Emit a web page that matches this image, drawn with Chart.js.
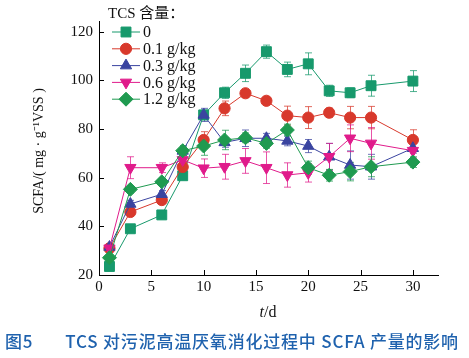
<!DOCTYPE html>
<html>
<head>
<meta charset="utf-8">
<script src="https://cdn.jsdelivr.net/npm/chart.js@4.4.0/dist/chart.umd.min.js"></script>
<style>
  body { margin: 0; background: #fff; }
  #wrap { position: relative; width: 469px; height: 358px; }
  #cap { position: absolute; left: 5px; top: 328px; font-family: "Noto Sans CJK SC", sans-serif;
         font-size: 17px; font-weight: 500; color: #1f62ae; white-space: nowrap; letter-spacing: 0.8px; }
  #cap span { margin-right: 32px; }
</style>
</head>
<body>
<div id="wrap">
  <canvas id="grafico" width="469" height="358"></canvas>
  <div id="cap"><span>图5</span>TCS 对污泥高温厌氧消化过程中 SCFA 产量的影响</div>
</div>
<script>
// dati
const giorni = [1, 3, 6, 8, 10, 12, 14, 16, 18, 20, 22, 24, 26, 30];
const nomiSerie = ['0', '0.1 g/kg', '0.3 g/kg', '0.6 g/kg', '1.2 g/kg'];
const tickY = [20, 40, 60, 80, 100, 120];
const tickX = [0, 5, 10, 15, 20, 25, 30];

const scfa0  = [23.5, 39, 44.7, 60.8, 85.8, 94.9, 102.9, 111.8, 104.5, 106.8, 95.7, 94.9, 97.8, 99.7];
const scfa01 = [31, 45.9, 50.8, 64.4, 75.5, 88.5, 94.7, 91.6, 85.5, 84.7, 86.7, 84.7, 84.7, 75.5];
const scfa03 = [31.5, 49.2, 53.2, 71, 85.8, 74.5, 76.2, 76.2, 75.1, 73, 68.6, 65.2, 64.5, 72.1];
const scfa06 = [31, 64.1, 64.1, 67.3, 63.9, 64.5, 66.9, 64.1, 61.1, 62, 68.6, 76.2, 74.1, 71.1];
const scfa12 = [27.1, 55.2, 58.3, 71.1, 73, 75.5, 76.4, 74.1, 79.6, 64.1, 61, 62.5, 64.5, 66.4];

const err0  = [1.2, 1.5, 1.5, 1.5, 2, 2.3, 3.4, 2.7, 3, 4.5, 2.3, 2, 4.3, 4.3];
const err01 = [1.5, 1.5, 1.5, 2, 3.4, 3, 1.5, 1.5, 3.9, 4.5, 1.9, 4.6, 4.6, 4.2];
const err03 = [1.2, 1.5, 1.5, 2, 2.7, 2, 3.4, 2, 2, 2.7, 5.5, 5.8, 5.1, 2];
const err06 = [1.2, 4.5, 2, 2, 3.8, 5.1, 5.1, 6.5, 5, 3.8, 5.5, 5.5, 6.5, 3];
const err12 = [1.2, 1.5, 1.5, 2, 3.8, 4, 2, 2, 2.4, 2.7, 2.4, 3.8, 4.1, 2.2];

const colori = ['#17996c', '#d8392c', '#3a44a0', '#e01b8b', '#1f9a50'];
const forme  = ['rect', 'circle', 'triangle', 'triangle', 'rectRot'];
const rotazioni = [0, 0, 0, 180, 0];
const raggi = [7, 5.6, 6.5, 6.5, 7];

const valori = [scfa0, scfa01, scfa03, scfa06, scfa12];
const errori = [err0, err01, err03, err06, err12];

const serif = '"Liberation Serif", "Times New Roman", serif';

function punti(arr) {
    return giorni.map((g, i) => ({x: g, y: arr[i]}));
}

let datasets = [];
for (let i = 0; i < 5; i++) {
    datasets.push({
        label: nomiSerie[i],
        data: punti(valori[i]),
        errori: errori[i],
        showLine: true,
        borderColor: colori[i],
        backgroundColor: colori[i],
        borderWidth: 1,
        pointStyle: forme[i],
        pointRotation: rotazioni[i],
        pointRadius: raggi[i],
        pointHoverRadius: raggi[i],
        pointBorderWidth: 1,
        order: 4 - i
    });
}

const barreErrore = {
    id: 'barreErrore',
    beforeDatasetsDraw(chart) {
        let ctx = chart.ctx;
        let sx = chart.scales.x, sy = chart.scales.y;
        ctx.save();
        ctx.lineWidth = 1;
        chart.data.datasets.forEach((ds, k) => {
            ctx.strokeStyle = colori[k];
            ctx.globalAlpha = 0.75;
            ds.data.forEach((p, i) => {
                let e = ds.errori[i];
                let px = Math.round(sx.getPixelForValue(p.x)) + 0.5;
                let t = sy.getPixelForValue(p.y + e);
                let b = sy.getPixelForValue(p.y - e);
                ctx.beginPath();
                ctx.moveTo(px, t); ctx.lineTo(px, b);
                ctx.moveTo(px - 3.5, t); ctx.lineTo(px + 3.5, t);
                ctx.moveTo(px - 3.5, b); ctx.lineTo(px + 3.5, b);
                ctx.stroke();
            });
        });
        ctx.restore();
    }
};

const decorazioni = {
    id: 'decorazioni',
    afterDraw(chart) {
        let ctx = chart.ctx;
        let sx = chart.scales.x, sy = chart.scales.y;
        let area = chart.chartArea;
        ctx.save();
        // tacche interne
        ctx.strokeStyle = '#000';
        ctx.lineWidth = 1;
        ctx.beginPath();
        for (let v of tickY) {
            let py = Math.round(sy.getPixelForValue(v)) + 0.5;
            ctx.moveTo(area.left, py); ctx.lineTo(area.left + 5, py);
        }
        for (let v of tickX) {
            let px = Math.round(sx.getPixelForValue(v)) + 0.5;
            ctx.moveTo(px, area.bottom); ctx.lineTo(px, area.bottom - 5);
        }
        ctx.stroke();

        // titolo asse y
        ctx.fillStyle = '#111';
        ctx.translate(39, 151);
        ctx.rotate(-Math.PI / 2);
        ctx.font = '14px ' + serif;
        ctx.textAlign = 'center';
        ctx.textBaseline = 'middle';
        ctx.fillText('SCFA/( mg · g\u207B\u00B9VSS )', 0, 0);
        ctx.setTransform(1, 0, 0, 1, 0, 0);

        // titolo asse x
        ctx.font = 'italic 16px ' + serif;
        ctx.textAlign = 'left';
        let wt = ctx.measureText('t').width;
        ctx.font = '16px ' + serif;
        let wd = ctx.measureText('/d').width;
        let x0 = 268 - (wt + wd) / 2;
        ctx.font = 'italic 16px ' + serif;
        ctx.fillText('t', x0, 313);
        ctx.font = '16px ' + serif;
        ctx.fillText('/d', x0 + wt, 313);

        // legenda
        ctx.font = '15px ' + serif + ', "Noto Sans CJK SC"';
        ctx.fillText('TCS 含量\uFF1A', 108, 14);
        for (let i = 0; i < 5; i++) {
            let ry = 32 + i * 16.8;
            ctx.strokeStyle = colori[i];
            ctx.fillStyle = colori[i];
            ctx.lineWidth = 1;
            ctx.beginPath();
            ctx.moveTo(112, ry); ctx.lineTo(140, ry);
            ctx.stroke();
            Chart.helpers.drawPoint(ctx, {pointStyle: forme[i], rotation: rotazioni[i], radius: raggi[i], borderWidth: 1}, 126, ry);
            ctx.fillStyle = '#111';
            ctx.font = '16px ' + serif;
            ctx.fillText(nomiSerie[i], 143, ry + 1);
        }
        ctx.restore();
    }
};

let grafico = new Chart(document.getElementById('grafico'), {
    type: 'scatter',
    data: {datasets: datasets},
    plugins: [barreErrore, decorazioni],
    options: {
        responsive: false,
        animation: false,
        layout: {padding: {top: 21, right: 31, left: 0, bottom: 0}},
        plugins: {legend: {display: false}, tooltip: {enabled: false}},
        scales: {
            x: {
                type: 'linear', min: 0, max: 32.4,
                afterBuildTicks: s => { s.ticks = tickX.map(v => ({value: v})); },
                afterFit: s => { s.height = 83; },
                grid: {drawOnChartArea: false, drawTicks: false},
                border: {color: '#000', width: 1},
                ticks: {color: '#111', font: {family: serif, size: 15}, padding: 3, maxRotation: 0}
            },
            y: {
                type: 'linear', min: 20, max: 124.4,
                afterBuildTicks: s => { s.ticks = tickY.map(v => ({value: v})); },
                afterFit: s => { s.width = 99; },
                grid: {drawOnChartArea: false, drawTicks: false},
                border: {color: '#000', width: 1},
                ticks: {color: '#111', font: {family: serif, size: 15}, padding: 6}
            }
        }
    }
});
</script>
</body>
</html>
